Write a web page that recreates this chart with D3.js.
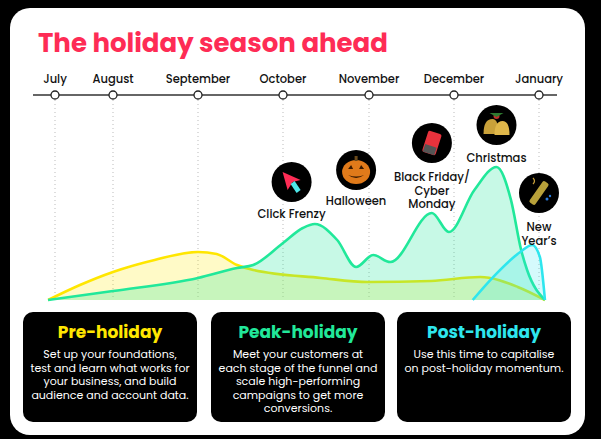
<!DOCTYPE html>
<html>
<head>
<meta charset="utf-8">
<script src="https://cdn.jsdelivr.net/npm/d3@7"></script>
<style>
  html, body { margin: 0; padding: 0; background: #000; }
  svg { display: block; font-family: Poppins, Inter, sans-serif; }
</style>
</head>
<body>
<div id="chart"></div>
<script>
// months on the timeline
var months = ["July", "August", "September", "October", "November", "December", "January"];

// series: x in month units (0 = July), v = relative activity
var preX = [-0.12, 0.43, 1, 1.49, 2, 2.22, 2.46, 2.65, 3.44, 3.99, 4.73, 5.31, 5.75, 6.07];
var preV = [0, 10, 18.7, 26.7, 32, 30.7, 23.3, 20, 14.7, 12, 12.7, 15.3, 8.7, 0];

var peakX = [-0.12, 1, 2, 2.46, 2.65, 3, 3.23, 3.37, 3.63, 3.85, 4.05, 4.25, 4.74, 4.94, 5.24, 5.5, 5.67, 5.79, 5.86, 6.07];
var peakV = [0, 6, 14.7, 21.3, 23.3, 38, 48, 50.7, 40, 22, 30, 25.3, 58, 45.3, 73.3, 88.7, 66.7, 33.3, 20, 0];

var postX = [5.22, 5.46, 5.78, 5.92, 6.01, 6.07];
var postV = [0, 15.3, 32, 36.7, 28.7, 0];

var events = ["Click Frenzy", "Halloween", "Black Friday/\nCyber\nMonday", "Christmas", "New\nYear’s"];
var eventX = [3.1, 3.85, 4.74, 5.5, 6.0];

var boxTitles = ["Pre-holiday", "Peak-holiday", "Post-holiday"];
var boxTexts = [
  ["Set up your foundations,", "test and learn what works for", "your business, and build", "audience and account data."],
  ["Meet your customers at", "each stage of the funnel and", "scale high-performing", "campaigns to get more", "conversions."],
  ["Use this time to capitalise", "on post-holiday momentum."]
];

var W = 601, H = 439;
var yellow = "#ffe600", green = "#21e89a", cyan = "#2ee6ee", red = "#fe2c55";

var svg = d3.select("#chart").append("svg")
  .attr("width", W).attr("height", H);

svg.append("rect").attr("width", W).attr("height", H).attr("fill", "#000");
// white card
svg.append("rect")
  .attr("x", 10).attr("y", 8).attr("width", 575).attr("height", 427)
  .attr("rx", 20).attr("fill", "#fff");

svg.append("text")
  .attr("x", 38).attr("y", 52)
  .attr("fill", red)
  .style("font-size", "26px").style("font-weight", 700)
  .text("The holiday season ahead");

// x: piecewise month scale, y: activity
var x = d3.scaleLinear().domain([0, 1, 2, 3, 4, 5, 6])
  .range([55, 113, 198, 283, 369, 454, 539]);
var y = d3.scaleLinear().domain([0, 100]).range([300, 150]);

// timeline
var tl = svg.append("g");
tl.append("line")
  .attr("x1", 33).attr("x2", 557).attr("y1", 95).attr("y2", 95)
  .attr("stroke", "#333").attr("stroke-width", 1.4);

tl.selectAll(".grid").data(months).enter().append("line")
  .attr("x1", (d, i) => x(i)).attr("x2", (d, i) => x(i))
  .attr("y1", 100).attr("y2", 300)
  .attr("stroke", "#bbb").attr("stroke-width", 1)
  .attr("stroke-dasharray", "1,3");

tl.selectAll(".dot").data(months).enter().append("circle")
  .attr("cx", (d, i) => x(i)).attr("cy", 95).attr("r", 4)
  .attr("fill", "#fff").attr("stroke", "#222").attr("stroke-width", 1.3);

tl.selectAll(".mlab").data(months).enter().append("text")
  .attr("x", (d, i) => x(i)).attr("y", 83)
  .attr("text-anchor", "middle")
  .style("font-size", "11.5px").style("font-weight", 500).attr("fill", "#111")
  .text(d => d);

// areas
function zip(xs, vs) { return xs.map((d, i) => ({ x: d, v: vs[i] })); }
var area = d3.area().x(d => x(d.x)).y0(y(0)).y1(d => y(d.v)).curve(d3.curveMonotoneX);
var line = d3.line().x(d => x(d.x)).y(d => y(d.v)).curve(d3.curveMonotoneX);

var series = [
  { data: zip(preX, preV), color: yellow, op: 0.22 },
  { data: zip(peakX, peakV), color: green, op: 0.25 },
  { data: zip(postX, postV), color: cyan, op: 0.2 }
];
var plot = svg.append("g");
series.forEach(function (s) {
  plot.append("path").attr("d", area(s.data))
    .attr("fill", s.color).attr("fill-opacity", s.op);
  plot.append("path").attr("d", line(s.data))
    .attr("fill", "none").attr("stroke", s.color)
    .attr("stroke-width", 2.6).attr("stroke-linejoin", "round");
});

// event badges
var eventLayout = [
  { cy: 182, ly: 218 },
  { cy: 170, ly: 205 },
  { cy: 143, ly: 181 },
  { cy: 125, ly: 162 },
  { cy: 193, ly: 231 }
];
var ev = svg.append("g");
events.forEach(function (name, i) {
  var cx = x(eventX[i]), L = eventLayout[i];
  var g = ev.append("g").attr("transform", "translate(" + cx + "," + L.cy + ")");
  g.append("circle").attr("r", 20).attr("fill", "#000");
  drawIcon(g, i);
  name.split("\n").forEach(function (ln, j) {
    ev.append("text")
      .attr("x", cx).attr("y", L.ly + j * 13.5)
      .attr("text-anchor", "middle")
      .style("font-size", "11.5px").style("font-weight", 500).attr("fill", "#111")
      .text(ln);
  });
});

function drawIcon(g, i) {
  if (i === 0) { // cursor
    g.append("path").attr("d", "M-9,-10 L9,-2 L1,0 L-4,8 Z").attr("fill", red);
    g.append("path").attr("d", "M-1,2 L3,-1 L9,8 L5,11 Z").attr("fill", "#4ee6e8");
  } else if (i === 1) { // pumpkin
    g.append("ellipse").attr("rx", 14).attr("ry", 12).attr("cy", 2).attr("fill", "#e07a1a");
    g.append("rect").attr("x", -1.5).attr("y", -14).attr("width", 3).attr("height", 5).attr("fill", "#6b4a1a");
    g.append("path").attr("d", "M-8,-1 L-3,-1 L-5,-5 Z M3,-1 L8,-1 L5,-5 Z M-8,5 Q0,11 8,5 Q0,8 -8,5 Z").attr("fill", "#3a1a00");
  } else if (i === 2) { // tag
    g.append("rect").attr("x", -7).attr("y", -11).attr("width", 14).attr("height", 22)
      .attr("rx", 2).attr("fill", "#e8323c").attr("transform", "rotate(18)");
    g.append("rect").attr("x", -6).attr("y", 3).attr("width", 12).attr("height", 8)
      .attr("fill", "#555").attr("transform", "rotate(18)");
  } else if (i === 3) { // bells
    g.append("path").attr("d", "M-13,9 Q-13,-6 -4,-6 Q2,-6 2,9 Z").attr("fill", "#c9a13a");
    g.append("path").attr("d", "M-2,10 Q-2,-4 6,-4 Q13,-4 13,10 Z").attr("fill", "#e0b74a");
    g.append("circle").attr("cy", -9).attr("r", 3).attr("fill", "#c0302a");
    g.append("path").attr("d", "M-7,-12 L7,-12 L0,-8 Z").attr("fill", "#2f7a30");
  } else { // champagne
    g.append("rect").attr("x", -3.5).attr("y", -13).attr("width", 7).attr("height", 26)
      .attr("rx", 2).attr("fill", "#b8a13a").attr("transform", "rotate(35)");
    g.append("circle").attr("cx", 8).attr("cy", 6).attr("r", 1.5).attr("fill", "#2a7de0");
    g.append("circle").attr("cx", 11).attr("cy", 3).attr("r", 1.2).attr("fill", "#2a7de0");
    g.append("path").attr("d", "M-6,-15 q3,3 0,6").attr("fill", "none").attr("stroke", "#c9a13a").attr("stroke-width", 1.2);
  }
}

// bottom boxes
var boxColors = [yellow, green, cyan];
var boxX = [23, 211, 397], boxW = 174;
var boxes = svg.append("g");
boxTitles.forEach(function (title, i) {
  var cx = boxX[i] + boxW / 2;
  boxes.append("rect")
    .attr("x", boxX[i]).attr("y", 312).attr("width", boxW).attr("height", 110)
    .attr("rx", 10).attr("fill", "#000");
  boxes.append("text")
    .attr("x", cx).attr("y", 338).attr("text-anchor", "middle")
    .attr("fill", boxColors[i])
    .style("font-size", "17px").style("font-weight", 700)
    .text(title);
  boxTexts[i].forEach(function (ln, j) {
    boxes.append("text")
      .attr("x", cx).attr("y", 358 + j * 13.5)
      .attr("text-anchor", "middle")
      .attr("fill", "#fff").style("font-size", "11px")
      .text(ln);
  });
});
</script>
</body>
</html>
